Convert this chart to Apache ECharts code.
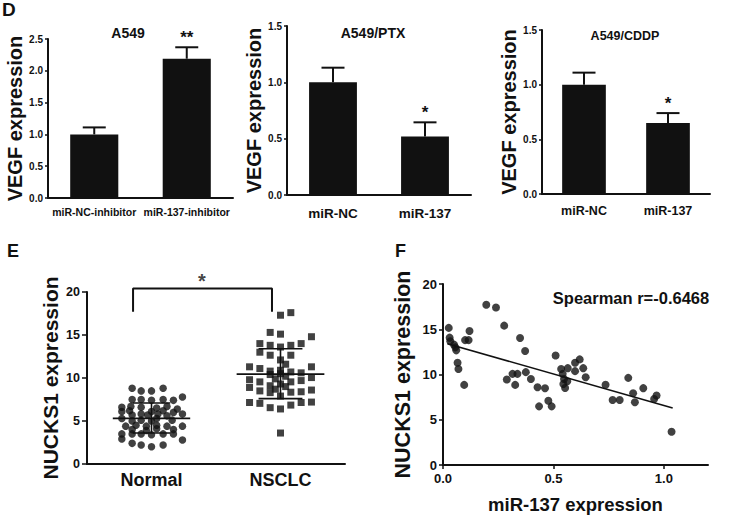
<!DOCTYPE html>
<html>
<head>
<meta charset="utf-8">
<script src="https://cdn.jsdelivr.net/npm/echarts@6/dist/echarts.min.js"></script>
<style>html,body{margin:0;padding:0;background:#fff}#c{width:753px;height:522px}</style>
</head>
<body>
<div id="c"></div>
<script>
// ---------- Panel D data ----------
const d1Cats = ['miR-NC-inhibitor', 'miR-137-inhibitor'];
const d1Vals = [1.0, 2.19];
const d1Err = [0.11, 0.18];
const d1Sig = ['', '**'];

const d2Cats = ['miR-NC', 'miR-137'];
const d2Vals = [1.0, 0.52];
const d2Err = [0.13, 0.125];
const d2Sig = ['', '*'];

const d3Cats = ['miR-NC', 'miR-137'];
const d3Vals = [1.0, 0.65];
const d3Err = [0.11, 0.09];
const d3Sig = ['', '*'];

// ---------- Panel E data ----------
const eGroups = ['Normal', 'NSCLC'];
const eNormalVals = [8.8, 8.5, 8.5, 8.8, 7.8, 7.5, 7.5, 7.4, 7.5, 7.4, 6.6, 6.7, 6.6, 6.5, 6.7, 6.4, 6.1, 6.2, 6.1, 6.2,
  6.0, 5.7, 5.8, 5.7, 5.8, 5.6, 5.8, 5.3, 5.3, 5.0, 5.1, 5.0, 5.1, 4.4, 4.5, 4.4, 4.5, 4.4, 4.4, 4.0,
  3.9, 4.1, 4.0, 3.5, 3.5, 3.5, 3.4, 3.5, 3.5, 2.9, 2.8, 2.4, 2.2, 2.0, 2.2];
const eNormalJitter = [-0.15, -0.08, 0.0, 0.09, 0.24, -0.15, -0.08, 0.0, 0.09, 0.17, -0.23, -0.16, -0.08, 0.04, 0.12, 0.2, -0.23, -0.17, 0.0, 0.09,
  0.17, -0.15, -0.08, -0.03, 0.05, 0.12, 0.24, -0.23, 0.04, -0.15, -0.08, 0.0, 0.16, -0.2, -0.12, -0.04, 0.04, 0.12, 0.24, -0.15,
  -0.04, 0.04, 0.17, -0.23, -0.15, -0.08, 0.0, 0.09, 0.17, -0.23, 0.24, -0.15, -0.08, 0.0, 0.09];
const eNsclcVals = [17.3, 17.6, 15.3, 15.1, 14.8, 14.0, 13.8, 13.6, 13.8, 14.0, 13.0, 12.65, 12.65, 12.1, 11.6, 11.3, 11.1, 10.8, 10.9, 10.7,
  10.6, 11.3, 10.4, 10.5, 10.2, 10.05, 9.8, 9.55, 9.9, 9.55, 9.7, 9.3, 9.1, 9.0, 8.9, 8.5, 8.3, 8.35, 8.4, 8.6,
  7.9, 7.15, 7.05, 6.85, 7.15, 7.2, 6.55, 6.4, 3.6, 8.7];
const eNsclcJitter = [0.0, 0.08, -0.08, 0.0, 0.24, -0.16, -0.08, 0.0, 0.08, 0.16, -0.16, -0.08, 0.08, 0.0, 0.04, -0.24, -0.16, -0.08, 0.0, 0.08,
  0.16, 0.24, -0.08, 0.0, 0.04, 0.24, -0.24, -0.16, -0.04, 0.08, 0.16, 0.0, -0.08, 0.04, -0.24, -0.16, -0.08, 0.08, 0.16, 0.24,
  0.0, -0.24, -0.16, 0.08, 0.16, 0.24, -0.08, 0.0, 0.0, -0.04];
const eMeans = [5.3, 10.45];
const eSdLow = [3.6, 7.6];
const eSdHigh = [7.1, 13.4];
const eBracket = [[0.857, 17.7], [0.857, 20.4], [1.934, 20.4], [1.934, 17.7]];
const eStar = [1.39, 21.3];

// ---------- Panel F data ----------
const fMir = [0.026, 0.03, 0.033, 0.05, 0.056, 0.06, 0.066, 0.07, 0.096, 0.10, 0.116, 0.12, 0.196, 0.24, 0.277, 0.289, 0.315, 0.327, 0.337, 0.349,
  0.372, 0.375, 0.398, 0.428, 0.435, 0.462, 0.477, 0.492, 0.51, 0.535, 0.542, 0.548, 0.545, 0.553, 0.563, 0.565, 0.598, 0.598, 0.619, 0.635,
  0.646, 0.736, 0.768, 0.80, 0.839, 0.861, 0.869, 0.907, 0.956, 0.967, 1.035];
const fNucks = [15.15, 14.07, 13.67, 13.3, 13.0, 12.67, 11.3, 10.6, 8.85, 13.8, 13.8, 14.8, 17.7, 17.4, 15.4, 9.44, 10.07, 8.85, 10.07, 14.04,
  12.6, 10.26, 9.5, 8.6, 6.48, 8.48, 7.1, 6.48, 12.1, 10.6, 10.07, 9.5, 8.96, 8.5, 9.26, 10.7, 11.3, 10.37, 11.67, 10.7,
  9.7, 8.86, 7.19, 7.19, 9.63, 7.93, 6.93, 8.49, 7.3, 7.67, 3.67];
const fFitX = [0.02, 1.04];
const fFitY = [13.4, 6.3];
const fLabel = 'Spearman r=-0.6468';

// ---------- Rendering ----------
const FF = "'Liberation Sans', Arial, Helvetica, sans-serif";
const INK = '#111';

function errRender(sig) {
  return function (params, api) {
    const i = api.value(0), v = api.value(1), e = api.value(2);
    const b = api.coord([i, v]);
    const t = api.coord([i, v + e]);
    const kids = [
      { type: 'line', shape: { x1: b[0], y1: b[1], x2: t[0], y2: t[1] }, style: { stroke: INK, lineWidth: 2 } },
      { type: 'line', shape: { x1: t[0] - 11.5, y1: t[1], x2: t[0] + 11.5, y2: t[1] }, style: { stroke: INK, lineWidth: 2 } }
    ];
    const s = sig[params.dataIndex];
    if (s) kids.push({ type: 'text', x: t[0], y: t[1] - 1, style: { text: s, fill: INK, font: 'bold 17px ' + FF, textAlign: 'center', textVerticalAlign: 'bottom' } });
    return { type: 'group', children: kids };
  };
}

function barXAxis(gi, cats, fs, margin) {
  return {
    gridIndex: gi, type: 'category', data: cats,
    axisLine: { lineStyle: { color: INK, width: 2 } },
    axisTick: { show: false },
    axisLabel: { interval: 0, hideOverlap: false, color: INK, fontWeight: 'bold', fontFamily: FF, fontSize: fs, margin: margin },
    splitLine: { show: false }
  };
}
function barYAxis(gi, max, gap) {
  return {
    gridIndex: gi, type: 'value', min: 0, max: max, interval: 0.5,
    name: 'VEGF expression', nameLocation: 'middle', nameGap: gap, nameRotate: 90,
    nameTextStyle: { color: INK, fontWeight: 'bold', fontFamily: FF, fontSize: 20 },
    axisLine: { show: true, lineStyle: { color: INK, width: 2 } },
    axisTick: { show: true, length: 3, lineStyle: { color: INK, width: 1.5 } },
    axisLabel: { color: INK, fontWeight: 'bold', fontFamily: FF, fontSize: 10, margin: 5, formatter: v => v.toFixed(1) },
    splitLine: { show: false }
  };
}
function barSeries(gi, vals) {
  return { type: 'bar', xAxisIndex: gi, yAxisIndex: gi, data: vals, barWidth: '52%', itemStyle: { color: INK }, silent: true };
}
function errSeries(gi, vals, err, sig) {
  return {
    type: 'custom', xAxisIndex: gi, yAxisIndex: gi, z: 3,
    data: vals.map((v, i) => [i, v, err[i]]), renderItem: errRender(sig), silent: true
  };
}

const chart = echarts.init(document.getElementById('c'), null, { renderer: 'svg' });

const eNormalData = eNormalVals.map((v, i) => [1 + eNormalJitter[i], v]);
const eNsclcData = eNsclcVals.map((v, i) => [2 + eNsclcJitter[i], v]);
const eStats = eMeans.map((m, i) => [i + 1, m, eSdLow[i], eSdHigh[i]]);
const fData = fMir.map((x, i) => [x, fNucks[i]]);
const fFit = fFitX.map((x, i) => [x, fFitY[i]]);

const option = {
  animation: false,
  backgroundColor: '#fff',
  textStyle: { fontFamily: FF },
  grid: [
    { left: 48, top: 39, width: 185, height: 159 },
    { left: 287, top: 26, width: 184, height: 169 },
    { left: 542, top: 30, width: 168, height: 164 },
    { left: 87, top: 292, width: 258, height: 172 },
    { left: 443, top: 284, width: 265, height: 181 }
  ],
  xAxis: [
    barXAxis(0, d1Cats, 10.5, 8),
    barXAxis(1, d2Cats, 13.5, 11),
    barXAxis(2, d3Cats, 12.5, 10),
    {
      gridIndex: 3, type: 'value', min: 0.5, max: 2.5, interval: 0.5,
      axisLine: { onZero: false, lineStyle: { color: INK, width: 2 } },
      axisTick: { show: false }, splitLine: { show: false },
      axisLabel: { color: INK, fontWeight: 'bold', fontFamily: FF, fontSize: 18, margin: 7,
        showMinLabel: false, showMaxLabel: false,
        formatter: v => (Math.abs(v - 1) < 1e-6 ? eGroups[0] : (Math.abs(v - 2) < 1e-6 ? eGroups[1] : '')) }
    },
    {
      gridIndex: 4, type: 'value', min: 0, max: 1.2, interval: 0.5,
      name: 'miR-137 expression', nameLocation: 'middle', nameGap: 30,
      nameTextStyle: { color: INK, fontWeight: 'bold', fontFamily: FF, fontSize: 18.5 },
      axisLine: { onZero: false, lineStyle: { color: INK, width: 2 } },
      axisTick: { show: true, length: 4, lineStyle: { color: INK, width: 1.5 } },
      splitLine: { show: false },
      axisLabel: { color: INK, fontWeight: 'bold', fontFamily: FF, fontSize: 13, margin: 7, showMaxLabel: false,
        formatter: v => v.toFixed(1) }
    }
  ],
  yAxis: [
    barYAxis(0, 2.5, 20),
    barYAxis(1, 1.5, 17),
    barYAxis(2, 1.5, 17),
    {
      gridIndex: 3, type: 'value', min: 0, max: 20, interval: 5,
      name: 'NUCKS1 expression', nameLocation: 'middle', nameGap: 26, nameRotate: 90,
      nameTextStyle: { color: INK, fontWeight: 'bold', fontFamily: FF, fontSize: 21 },
      axisLine: { show: true, lineStyle: { color: INK, width: 2 } },
      axisTick: { show: true, length: 5, lineStyle: { color: INK, width: 1.5 } },
      axisLabel: { color: INK, fontWeight: 'bold', fontFamily: FF, fontSize: 12.5, margin: 7 },
      splitLine: { show: false }
    },
    {
      gridIndex: 4, type: 'value', min: 0, max: 20, interval: 5,
      name: 'NUCKS1 expression', nameLocation: 'middle', nameGap: 29, nameRotate: 90,
      nameTextStyle: { color: INK, fontWeight: 'bold', fontFamily: FF, fontSize: 21.5 },
      axisLine: { show: true, lineStyle: { color: INK, width: 2 } },
      axisTick: { show: true, length: 4, lineStyle: { color: INK, width: 1.5 } },
      axisLabel: { color: INK, fontWeight: 'bold', fontFamily: FF, fontSize: 13, margin: 6 },
      splitLine: { show: false }
    }
  ],
  graphic: [
    { type: 'text', x: 2, y: 0, style: { text: 'D', fill: INK, font: 'bold 19px ' + FF } },
    { type: 'text', x: 7, y: 242, style: { text: 'E', fill: INK, font: 'bold 18px ' + FF } },
    { type: 'text', x: 395, y: 242, style: { text: 'F', fill: INK, font: 'bold 18px ' + FF } },
    { type: 'text', x: 128, y: 33, style: { text: 'A549', fill: INK, font: 'bold 14px ' + FF, textAlign: 'center', textVerticalAlign: 'middle' } },
    { type: 'text', x: 373, y: 33, style: { text: 'A549/PTX', fill: INK, font: 'bold 14px ' + FF, textAlign: 'center', textVerticalAlign: 'middle' } },
    { type: 'text', x: 625, y: 36, style: { text: 'A549/CDDP', fill: INK, font: 'bold 12.5px ' + FF, textAlign: 'center', textVerticalAlign: 'middle' } },
    { type: 'text', x: 631, y: 298, style: { text: fLabel, fill: INK, font: 'bold 16.5px ' + FF, textAlign: 'center', textVerticalAlign: 'middle' } }
  ],
  series: [
    barSeries(0, d1Vals), errSeries(0, d1Vals, d1Err, d1Sig),
    barSeries(1, d2Vals), errSeries(1, d2Vals, d2Err, d2Sig),
    barSeries(2, d3Vals), errSeries(2, d3Vals, d3Err, d3Sig),
    {
      type: 'scatter', xAxisIndex: 3, yAxisIndex: 3, data: eNormalData,
      symbol: 'circle', symbolSize: 7.5, itemStyle: { color: INK }, silent: true
    },
    {
      type: 'scatter', xAxisIndex: 3, yAxisIndex: 3, data: eNsclcData,
      symbol: 'rect', symbolSize: 7, itemStyle: { color: INK }, silent: true
    },
    {
      type: 'custom', xAxisIndex: 3, yAxisIndex: 3, z: 5, data: eStats, silent: true,
      renderItem: function (params, api) {
        const x = api.value(0), m = api.value(1), lo = api.value(2), hi = api.value(3);
        const mh = params.dataIndex === 0 ? 0.3 : 0.34;
        const ch = params.dataIndex === 0 ? 0.145 : 0.17;
        const a = api.coord([x - mh, m]), b = api.coord([x + mh, m]);
        const l = api.coord([x, lo]), h = api.coord([x, hi]);
        const cl1 = api.coord([x - ch, lo]), cl2 = api.coord([x + ch, lo]);
        const ch1 = api.coord([x - ch, hi]), ch2 = api.coord([x + ch, hi]);
        const st = { stroke: INK, lineWidth: 1.6 };
        return { type: 'group', children: [
          { type: 'line', shape: { x1: a[0], y1: a[1], x2: b[0], y2: b[1] }, style: st },
          { type: 'line', shape: { x1: l[0], y1: l[1], x2: h[0], y2: h[1] }, style: st },
          { type: 'line', shape: { x1: cl1[0], y1: cl1[1], x2: cl2[0], y2: cl2[1] }, style: st },
          { type: 'line', shape: { x1: ch1[0], y1: ch1[1], x2: ch2[0], y2: ch2[1] }, style: st }
        ] };
      }
    },
    {
      type: 'line', xAxisIndex: 3, yAxisIndex: 3, data: eBracket, clip: false, symbol: 'none',
      lineStyle: { color: INK, width: 2 }, silent: true
    },
    {
      type: 'scatter', xAxisIndex: 3, yAxisIndex: 3, data: [eStar], clip: false, symbolSize: 0, silent: true,
      label: { show: true, position: 'inside', formatter: '*', color: INK, fontWeight: 'bold', fontFamily: FF, fontSize: 20 }
    },
    {
      type: 'scatter', xAxisIndex: 4, yAxisIndex: 4, data: fData,
      symbol: 'circle', symbolSize: 8, itemStyle: { color: INK }, silent: true
    },
    {
      type: 'line', xAxisIndex: 4, yAxisIndex: 4, data: fFit, symbol: 'none',
      lineStyle: { color: INK, width: 1.6 }, silent: true
    }
  ]
};
chart.setOption(option);
</script>
</body>
</html>
